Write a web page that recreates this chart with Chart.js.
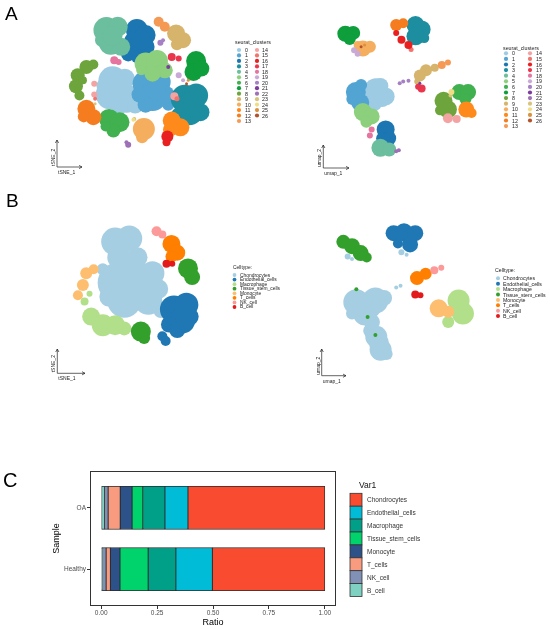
<!DOCTYPE html>
<html>
<head>
<meta charset="utf-8">
<script src="https://cdn.jsdelivr.net/npm/chart.js@4.4.0/dist/chart.umd.min.js"></script>
<style>
  body { margin: 0; background: #fff; font-family: "Liberation Sans", Arial, sans-serif; }
  #page { position: relative; width: 550px; height: 629px; overflow: hidden; }
  .box { position: absolute; }
  #overlay { position: absolute; left: 0; top: 0; pointer-events: none; }
</style>
</head>
<body>
<div id="page">
  <div class="box" style="left:0;top:0;width:232px;height:185px"><canvas id="tsneA"></canvas></div>
  <div class="box" style="left:300px;top:0;width:195px;height:185px"><canvas id="umapA"></canvas></div>
  <div class="box" style="left:0;top:190px;width:232px;height:190px"><canvas id="tsneB"></canvas></div>
  <div class="box" style="left:300px;top:190px;width:195px;height:190px"><canvas id="umapB"></canvas></div>
  <div class="box" style="left:45px;top:465px;width:300px;height:164px"><canvas id="ratioChart"></canvas></div>
  <svg id="overlay" width="550" height="629" xmlns="http://www.w3.org/2000/svg"></svg>
</div>
<script>
// ---- clusters (panel A) ----
const clusterNames = ['0','1','2','3','4','5','6','7','8','9','10','11','12','13',
                      '14','15','16','17','18','19','20','21','22','23','24','25','26'];
const clusterColors = ['#9DCBE3','#52A4D3','#1C76B2','#1D8EA0','#6BBE9E','#8CCF7C','#41B04F',
                       '#0E9E3B','#6DA53C','#D6B46B','#F5AE5E','#FF8A1C','#F57D1F','#F59A55',
                       '#F4A3A3','#F2736D','#E8201F','#E9364C','#E5759F','#C9A9D6','#A680C4',
                       '#7B3C9C','#9E70B6','#D8C47D','#F1DD86','#D99240','#B4522B'];

// blobs: [x, y, radius], one list per cluster
const tsneClusterBlobs = [
  [[112,78,14],[126,76,10],[110,95,15],[128,100,14],[138,108,8],[120,109,8],[104,85,9],[120,88,12]],
  [[150,82,13],[165,80,12],[158,98,14],[172,96,10],[150,107,8],[176,107,6],[143,95,8],[162,90,10]],
  [[140,18,11],[150,24,10],[138,32,11],[150,38,9],[130,47,7],[140,50,6],[145,30,10]],
  [[195,100,14],[208,96,12],[200,115,14],[213,116,9],[188,120,8],[203,106,12]],
  [[105,18,13],[118,14,10],[110,33,12],[122,38,9],[100,30,7],[112,25,10]],
  [[150,58,11],[163,55,11],[172,66,8],[158,70,8],[145,66,5]],
  [[108,124,10],[120,128,10],[113,138,7],[104,133,5]],
  [[208,55,10],[205,68,9],[214,64,8]],
  [[82,62,7],[90,59,5],[72,72,7],[70,85,7],[74,96,5],[78,78,4]],
  [[185,22,9],[193,30,8],[186,35,6]],
  [[148,136,11],[146,146,6]],
  [[180,126,9],[190,134,9],[178,137,7]],
  [[82,112,9],[90,122,8],[79,121,6]],
  [[165,8,5],[172,14,5]],
  [[91,82,3],[91,95,3],[183,97,4]],
  [[186,100,2.5],[92,100,2]],
  [[175,145,6],[174,152,4]],
  [[180,50,4],[188,52,3]],
  [[114,54,4],[119,56,3]],
  [[188,72,3],[193,78,2]],
  [[167,33,3],[170,30,2]],
  [[176,62,2]],
  [[130,155,3],[128,152,2]],
  [[137,124,2],[92,106,1.5]],
  [[136,125,2]],
  [[199,78,1.5]],
  [[197,82,1.5]]
];
const umapClusterBlobs = [
  [[373,90,12],[384,97,9],[370,104,9],[378,85,8],[380,100,8]],
  [[350,92,10],[355,104,9],[346,100,6],[356,84,6],[352,98,8]],
  [[384,135,9],[388,145,7],[380,145,6]],
  [[418,15,9],[425,20,9],[418,28,9],[428,30,5]],
  [[378,156,9],[388,158,7]],
  [[358,115,9],[368,120,8],[362,126,6]],
  [[468,92,8],[478,92,8],[475,100,6]],
  [[338,25,8],[347,24,7],[343,31,6]],
  [[450,102,9],[455,112,9],[446,113,5]],
  [[423,73,6],[430,67,6],[440,64,4],[420,80,3]],
  [[358,42,8],[366,40,6],[352,38,4]],
  [[476,112,8],[482,116,5]],
  [[396,15,6],[404,13,5]],
  [[448,61,4],[455,58,3]],
  [[455,122,5],[465,123,4]],
  [[413,43,2.5]],
  [[396,24,3],[402,32,4],[410,38,4]],
  [[425,88,4],[421,86,3]],
  [[368,135,3],[366,142,3]],
  [[348,44,3],[352,48,3]],
  [[404,80,2],[400,82,2],[410,79,2]],
  [[423,82,1.5]],
  [[396,160,2],[399,159,2]],
  [[458,96,2]],
  [[459,92,3]],
  [[360,38,1.5]],
  [[356,40,1.5]]
];

// ---- cell types (panels B and C) ----
const celltypeNames = ['Chondrocytes','Endothelial_cells','Macrophage','Tissue_stem_cells',
                       'Monocyte','T_cells','NK_cell','B_cell'];
const celltypeColors = ['#A6CEE3','#1F78B4','#B2DF8A','#33A02C','#FDBF6F','#FF7F00','#FB9A99','#E31A1C'];

const tsneCelltypeBlobs = [
  [[115,230,14],[132,226,13],[120,250,12],[142,250,10],[118,282,20],[145,283,20],[126,305,17],
   [155,305,14],[167,290,10],[170,318,7],[100,265,6],[135,268,15],[160,270,12],[108,300,10]],
  [[186,316,14],[201,310,12],[196,330,13],[180,335,8],[172,350,5],[176,356,5],[205,325,9],[190,342,8]],
  [[86,325,9],[100,336,11],[115,336,10],[126,340,7],[78,306,4],[84,296,3]],
  [[203,264,10],[208,275,8],[146,344,10],[150,352,6]],
  [[80,270,6],[76,285,6],[70,298,5],[89,265,5]],
  [[183,233,9],[190,244,8],[183,249,6]],
  [[165,217,5],[172,221,4]],
  [[177,258,4],[184,258,3]]
];
const umapCelltypeBlobs = [
  [[350,305,13],[372,303,13],[382,300,8],[360,318,12],[368,328,8],[373,345,11],[378,360,11],
   [365,310,12],[366,338,7],[376,352,10],[385,365,6],[345,318,6],[396,288,2],[401,286,2]],
  [[393,225,8],[405,224,9],[418,225,8],[412,238,8],[398,237,5]],
  [[468,303,11],[473,318,11],[456,328,6]],
  [[335,235,7],[345,240,8],[355,248,8],[362,253,5],[350,290,2],[363,322,2],[372,343,2]],
  [[445,312,9],[456,316,6]],
  [[420,277,7],[430,272,6]],
  [[440,268,4],[448,265,3]],
  [[418,296,4],[424,297,3]]
];
// chondrocyte patches lying inside the other UMAP islands
const umapChondroInset = [[340,252,3],[345,255,2],[402,247,3],[408,250,2]];

// ---- ratio bars (panel C) ----
const samples = ['Healthy', 'OA'];
const barTypes = ['B_cell','NK_cell','T_cells','Monocyte','Tissue_stem_cells',
                  'Macrophage','Endothelial_cells','Chondrocytes'];
const barColors = ['#7FD1C1','#8191B5','#F89B7F','#2D5189','#00D36B','#00A088','#00BCD6','#F94B30'];
const healthyRatio = [0.006, 0.016, 0.019, 0.043, 0.126, 0.124, 0.163, 0.503];
const oaRatio = [0.015, 0.016, 0.054, 0.053, 0.048, 0.099, 0.103, 0.612];
const ratioTicks = [0, 0.25, 0.5, 0.75, 1];

Chart.defaults.font.family = '"Liberation Sans", Arial, sans-serif';

function blobChart(id, left, top, width, height, blobs, colors, extra) {
  const datasets = blobs.map((list, i) => ({
    data: list.map(b => ({ x: b[0], y: b[1], r: b[2] })),
    backgroundColor: colors[i],
    borderWidth: 0,
    order: -i
  }));
  if (extra) datasets.push(extra);
  return new Chart(document.getElementById(id), {
    type: 'bubble',
    data: { datasets: datasets },
    options: {
      responsive: true,
      maintainAspectRatio: false,
      animation: false,
      layout: { padding: 0 },
      scales: {
        x: { type: 'linear', min: left, max: left + width, display: false },
        y: { type: 'linear', min: top, max: top + height, reverse: true, display: false }
      },
      plugins: { legend: { display: false }, tooltip: { enabled: false } }
    }
  });
}

blobChart('tsneA', 0, 0, 232, 185, tsneClusterBlobs, clusterColors);
blobChart('umapA', 300, 0, 195, 185, umapClusterBlobs, clusterColors);
blobChart('tsneB', 0, 190, 232, 190, tsneCelltypeBlobs, celltypeColors);
blobChart('umapB', 300, 190, 195, 190, umapCelltypeBlobs, celltypeColors, {
  data: umapChondroInset.map(b => ({ x: b[0], y: b[1], r: b[2] })),
  backgroundColor: celltypeColors[0],
  borderWidth: 0,
  order: -20
});

// panel border like ggplot's theme_bw box
const boxPlugin = {
  id: 'panelBox',
  afterDraw(chart) {
    const a = chart.chartArea, ctx = chart.ctx;
    ctx.save();
    ctx.strokeStyle = '#333333';
    ctx.lineWidth = 1;
    ctx.strokeRect(a.left + 0.5, a.top + 0.5, a.right - a.left - 1, a.bottom - a.top - 1);
    ctx.restore();
  }
};

new Chart(document.getElementById('ratioChart'), {
  type: 'bar',
  data: {
    datasets: barTypes.map((t, i) => ({
      label: t,
      data: samples.map((s, j) => ({ x: (j === 0 ? healthyRatio : oaRatio)[i], y: j + 1 })),
      backgroundColor: barColors[i],
      borderColor: '#2a2a2a',
      borderWidth: 0.8,
      borderSkipped: false,
      barThickness: 43
    }))
  },
  options: {
    indexAxis: 'y',
    responsive: true,
    maintainAspectRatio: false,
    animation: false,
    layout: { padding: { left: 0, top: 6, right: 9, bottom: 0 } },
    scales: {
      x: {
        type: 'linear', stacked: true, min: -0.05, max: 1.05, offset: false,
        afterBuildTicks: s => { s.ticks = ratioTicks.map(v => ({ value: v })); },
        afterFit: s => { s.height = 23; },
        ticks: { font: { size: 6.5 }, color: '#4d4d4d', padding: 0.5, maxRotation: 0,
                 callback: v => v.toFixed(2) },
        grid: { drawOnChartArea: false, tickLength: 3, color: '#333333' },
        border: { display: false },
        title: { display: true, text: 'Ratio', font: { size: 9 }, color: '#000',
                 padding: { top: 0, bottom: 0.6 } }
      },
      y: {
        type: 'linear', stacked: true, min: 0.4, max: 2.6, offset: false,
        afterBuildTicks: s => { s.ticks = samples.map((n, j) => ({ value: j + 1 })); },
        afterFit: s => { s.width = 45; },
        ticks: { font: { size: 6.5 }, color: '#4d4d4d', padding: 1,
                 callback: v => samples[v - 1] },
        grid: { drawOnChartArea: false, offset: false, tickLength: 3, color: '#333333' },
        border: { display: false },
        title: { display: true, text: 'Sample', font: { size: 9 }, color: '#000',
                 padding: { top: 6.6, bottom: 0 } }
      }
    },
    plugins: { legend: { display: false }, tooltip: { enabled: false } }
  },
  plugins: [boxPlugin]
});

// ---- overlay text: panel letters, legends, axis arrows ----
const svg = document.getElementById('overlay');
const NS = 'http://www.w3.org/2000/svg';
function el(tag, attrs, text) {
  const e = document.createElementNS(NS, tag);
  for (const k in attrs) e.setAttribute(k, attrs[k]);
  if (text !== undefined) e.textContent = text;
  svg.appendChild(e);
  return e;
}
function txt(str, x, y, size, extra) {
  return el('text', Object.assign({ x: x, y: y, 'font-size': size, fill: '#222',
    'font-family': 'Liberation Sans, Arial, sans-serif', 'dominant-baseline': 'central' }, extra || {}), str);
}

txt('A', 5, 13.5, 19, { fill: '#000' });
txt('B', 6, 200, 19, { fill: '#000' });
txt('C', 3, 480, 20, { fill: '#000' });

function dotLegend(title, names, colors, o) {
  txt(title, o.x, o.titleY, o.size);
  names.forEach((n, i) => {
    const col = i < o.perCol ? 0 : 1;
    const row = col ? i - o.perCol : i;
    const y = o.y0 + row * o.step;
    el('circle', { cx: o.dotX[col], cy: y, r: o.r, fill: colors[i] });
    txt(n, o.labelX[col], y, o.size);
  });
}
dotLegend('seurat_clusters', clusterNames, clusterColors,
  { x: 235, titleY: 42, y0: 50, step: 5.46, perCol: 14, dotX: [239, 257], labelX: [245, 262], r: 2.1, size: 5.3 });
dotLegend('seurat_clusters', clusterNames, clusterColors,
  { x: 503, titleY: 48, y0: 53.3, step: 5.6, perCol: 14, dotX: [506, 530], labelX: [512, 536], r: 2.1, size: 5.3 });
dotLegend('Celltype:', celltypeNames, celltypeColors,
  { x: 233, titleY: 267, y0: 275, step: 4.57, perCol: 99, dotX: [234.5], labelX: [240], r: 1.9, size: 4.9 });
dotLegend('Celltype:', celltypeNames, celltypeColors,
  { x: 495, titleY: 270, y0: 278.3, step: 5.4, perCol: 99, dotX: [498], labelX: [503], r: 2, size: 5.2 });

function axisArrows(cx, cy, top, right, l1, l2) {
  el('path', { d: `M${cx} ${top} L${cx} ${cy} L${right} ${cy}`, stroke: '#222', 'stroke-width': 0.7, fill: 'none' });
  el('path', { d: `M${cx - 1.6} ${top + 3} L${cx} ${top} L${cx + 1.6} ${top + 3}`, stroke: '#222', 'stroke-width': 0.7, fill: 'none' });
  el('path', { d: `M${right - 3} ${cy - 1.6} L${right} ${cy} L${right - 3} ${cy + 1.6}`, stroke: '#222', 'stroke-width': 0.7, fill: 'none' });
  txt(l1, cx + 1, cy + 5, 5);
  txt(l2, cx - 4, cy - 1, 5, { transform: `rotate(-90 ${cx - 4} ${cy - 1})` });
}
axisArrows(57, 167, 140, 82, 'tSNE_1', 'tSNE_2');
axisArrows(323.3, 168, 145, 349, 'umap_1', 'umap_2');
axisArrows(57.3, 373.3, 349, 85, 'tSNE_1', 'tSNE_2');
axisArrows(321.7, 375.7, 349, 346, 'umap_1', 'umap_2');

// legend for panel C
txt('Var1', 359, 485, 8.5, { fill: '#111' });
barTypes.slice().reverse().forEach((t, i) => {
  const c = barColors[barTypes.length - 1 - i];
  const y = 493.3 + i * 12.9;
  el('rect', { x: 350, y: y, width: 12, height: 12.9, fill: c, stroke: '#333', 'stroke-width': 0.8 });
  txt(t, 367, y + 6.45, 6.5, { fill: '#333' });
});
</script>
</body>
</html>
